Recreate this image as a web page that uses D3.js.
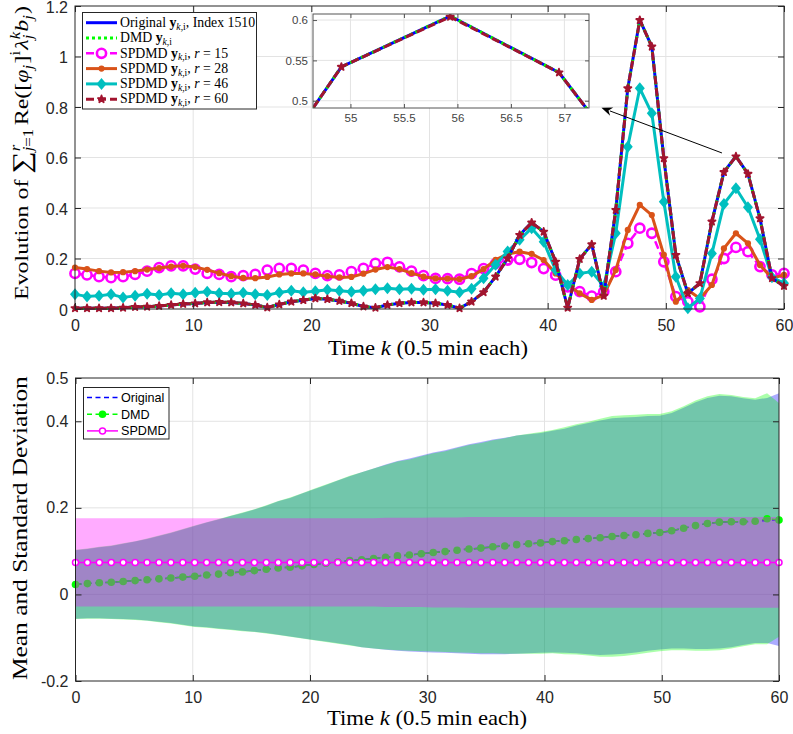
<!DOCTYPE html>
<html>
<head>
<meta charset="utf-8">
<script src="https://cdn.jsdelivr.net/npm/d3@7"></script>
<style>
  body { margin: 0; background: #fff; }
</style>
</head>
<body>
<svg id="fig" width="793" height="734"></svg>
<script>
// ---------- data ----------
// time grid: 60 samples spanning k = 0..60
const timeK = d3.range(60).map(i => i * 60 / 59);

const xTicks = [0, 10, 20, 30, 40, 50, 60];
const topYTicks = [0, 0.2, 0.4, 0.6, 0.8, 1, 1.2];
const bottomYTicks = [-0.2, 0, 0.2, 0.4, 0.5];
const insetXTicks = [55, 55.5, 56, 56.5, 57];
const insetYTicks = [0.5, 0.55, 0.6];

// reconstruction of one entry (index 1510)
const originalY = [0.003,0.003,0.003,0.003,0.005,0.008,0.009,0.012,0.016,0.020,
  0.022,0.026,0.027,0.026,0.022,0.016,0.006,0.018,0.029,0.035,
  0.042,0.039,0.032,0.023,0.010,0.005,0.016,0.023,0.026,0.026,
  0.023,0.016,0.003,0.029,0.066,0.128,0.200,0.293,0.342,0.306,
  0.187,0.005,0.198,0.256,0.052,0.392,0.874,1.145,1.039,0.597,
  0.214,0.062,0.102,0.346,0.542,0.605,0.535,0.359,0.122,0.091];
const dmdY = [0.003,0.003,0.003,0.003,0.005,0.008,0.009,0.012,0.016,0.020,
  0.022,0.026,0.027,0.026,0.022,0.016,0.006,0.018,0.029,0.035,
  0.042,0.039,0.032,0.023,0.010,0.005,0.016,0.023,0.026,0.026,
  0.023,0.016,0.003,0.029,0.066,0.128,0.200,0.293,0.342,0.306,
  0.187,0.005,0.198,0.256,0.052,0.392,0.874,1.145,1.039,0.597,
  0.214,0.062,0.102,0.346,0.542,0.605,0.535,0.359,0.122,0.091];
const spdmdR15 = [0.141,0.135,0.128,0.124,0.128,0.137,0.150,0.164,0.171,0.171,
  0.158,0.141,0.137,0.128,0.132,0.137,0.154,0.161,0.161,0.154,
  0.141,0.132,0.135,0.148,0.161,0.181,0.185,0.167,0.150,0.132,
  0.121,0.120,0.118,0.140,0.160,0.180,0.194,0.197,0.184,0.160,
  0.134,0.088,0.069,0.051,0.069,0.148,0.260,0.320,0.300,0.187,
  0.049,0.029,0.009,0.118,0.200,0.244,0.227,0.168,0.135,0.141];
const spdmdR28 = [0.164,0.158,0.150,0.145,0.146,0.150,0.156,0.162,0.168,0.171,
  0.166,0.155,0.142,0.130,0.123,0.122,0.127,0.137,0.141,0.141,
  0.137,0.130,0.125,0.127,0.140,0.156,0.166,0.158,0.142,0.128,
  0.121,0.120,0.118,0.130,0.158,0.195,0.218,0.227,0.218,0.194,
  0.141,0.095,0.062,0.036,0.055,0.154,0.313,0.412,0.372,0.214,
  0.029,0.075,0.042,0.095,0.240,0.300,0.260,0.174,0.122,0.135];
const spdmdR46 = [0.058,0.050,0.052,0.058,0.046,0.052,0.060,0.055,0.062,0.058,
  0.064,0.068,0.062,0.060,0.064,0.058,0.055,0.065,0.072,0.066,
  0.070,0.076,0.072,0.068,0.072,0.078,0.082,0.078,0.080,0.076,
  0.078,0.072,0.066,0.080,0.122,0.175,0.228,0.274,0.320,0.266,
  0.154,0.095,0.141,0.148,0.090,0.300,0.643,0.874,0.775,0.425,
  0.128,0.003,0.042,0.220,0.416,0.478,0.403,0.276,0.126,0.102];
const spdmdR60 = [0.003,0.003,0.003,0.003,0.005,0.008,0.009,0.012,0.016,0.020,
  0.022,0.026,0.027,0.026,0.022,0.016,0.006,0.018,0.029,0.035,
  0.042,0.039,0.032,0.023,0.010,0.005,0.016,0.023,0.026,0.026,
  0.023,0.016,0.003,0.029,0.066,0.128,0.200,0.293,0.342,0.306,
  0.187,0.005,0.198,0.256,0.052,0.392,0.874,1.144,1.039,0.597,
  0.214,0.062,0.102,0.346,0.542,0.604,0.535,0.359,0.122,0.091];

// mean and standard deviation over all entries
const originalMean = [0.023,0.025,0.027,0.028,0.030,0.032,0.034,0.036,0.038,0.040,
  0.042,0.045,0.047,0.050,0.052,0.055,0.058,0.061,0.063,0.066,
  0.069,0.072,0.075,0.078,0.080,0.083,0.086,0.089,0.091,0.094,
  0.097,0.099,0.102,0.105,0.107,0.110,0.112,0.115,0.117,0.119,
  0.122,0.124,0.127,0.129,0.131,0.134,0.136,0.138,0.141,0.143,
  0.147,0.153,0.159,0.164,0.167,0.168,0.168,0.169,0.171,0.173];
const originalStd = [0.079,0.080,0.082,0.084,0.087,0.090,0.094,0.099,0.104,0.110,
  0.116,0.121,0.126,0.131,0.136,0.141,0.147,0.154,0.160,0.167,
  0.174,0.181,0.188,0.195,0.202,0.208,0.214,0.219,0.223,0.227,
  0.231,0.234,0.238,0.242,0.245,0.248,0.250,0.252,0.253,0.254,
  0.256,0.259,0.263,0.267,0.271,0.273,0.273,0.272,0.271,0.270,
  0.272,0.278,0.285,0.290,0.292,0.290,0.285,0.281,0.283,0.292];
const dmdMean = [0.023,0.025,0.027,0.028,0.030,0.032,0.034,0.036,0.038,0.040,
  0.042,0.045,0.047,0.050,0.052,0.055,0.058,0.061,0.063,0.066,
  0.069,0.072,0.075,0.078,0.080,0.083,0.086,0.089,0.091,0.094,
  0.097,0.099,0.102,0.105,0.107,0.110,0.112,0.115,0.117,0.119,
  0.122,0.124,0.127,0.129,0.131,0.134,0.136,0.138,0.141,0.143,
  0.147,0.153,0.159,0.164,0.167,0.168,0.168,0.169,0.175,0.172];
const dmdStd = [0.080,0.081,0.083,0.085,0.088,0.091,0.095,0.100,0.105,0.111,
  0.117,0.122,0.127,0.132,0.137,0.142,0.148,0.155,0.161,0.168,
  0.175,0.182,0.189,0.196,0.202,0.208,0.213,0.218,0.221,0.225,
  0.229,0.232,0.236,0.240,0.243,0.246,0.249,0.252,0.254,0.256,
  0.258,0.262,0.266,0.270,0.275,0.278,0.278,0.277,0.276,0.274,
  0.276,0.282,0.289,0.294,0.296,0.293,0.288,0.284,0.290,0.270];
const spdmdMean = [0.074,0.074,0.074,0.074,0.074,0.074,0.074,0.074,0.074,0.074,
  0.074,0.074,0.074,0.074,0.074,0.074,0.074,0.074,0.074,0.074,
  0.074,0.074,0.074,0.074,0.074,0.074,0.074,0.074,0.074,0.074,
  0.074,0.074,0.074,0.074,0.074,0.074,0.074,0.074,0.074,0.074,
  0.074,0.074,0.074,0.074,0.074,0.074,0.074,0.074,0.074,0.074,
  0.074,0.074,0.074,0.074,0.074,0.074,0.074,0.074,0.074,0.074];
const spdmdStd = [0.102,0.102,0.102,0.102,0.102,0.102,0.102,0.102,0.102,0.102,
  0.102,0.102,0.102,0.102,0.102,0.102,0.102,0.102,0.102,0.102,
  0.102,0.102,0.102,0.102,0.102,0.102,0.103,0.103,0.103,0.103,
  0.104,0.104,0.104,0.105,0.105,0.105,0.105,0.105,0.105,0.105,
  0.105,0.105,0.105,0.105,0.105,0.105,0.105,0.105,0.105,0.105,
  0.105,0.105,0.105,0.105,0.105,0.105,0.105,0.105,0.105,0.105];

// ---------- styling ----------
const SERIF = "'Liberation Serif', 'DejaVu Serif', serif";
const SANS = "'Liberation Sans', Arial, sans-serif";
const AXIS_COLOR = '#262626';
const GRID_COLOR = '#e3e3e3';
const fmt = d => String(Math.round(d * 1000) / 1000);

const svg = d3.select('#fig');
svg.append('rect').attr('width', 793).attr('height', 734).attr('fill', '#fff');

// ---------- helpers ----------
// rich text: segments with roman / italic / bold parts, sub/superscripts
function rich(parent, segs, size, fill, subDrop) {
  const g = parent.append('g');
  let x = 0, lastStart = 0;
  for (const s of segs) {
    const small = s.pos === 'sub' || s.pos === 'sup';
    const fsz = small ? size * 0.7 : size * (s.big || 1);
    const dy = s.pos === 'sub' ? size * (subDrop || 0.28) : s.pos === 'sup' ? -size * 0.42 : (s.shift || 0) * size;
    const x0 = s.stack ? lastStart : x;
    const t = g.append('text').attr('x', x0).attr('y', dy)
      .attr('font-size', fsz).attr('font-family', SERIF).attr('fill', fill);
    const parts = s.parts || [[s.t, s.s || 'rm']];
    for (const [txt, st] of parts) {
      t.append('tspan').text(txt.replace(/ /g, '\u00a0'))
        .attr('font-style', st === 'it' ? 'italic' : 'normal')
        .attr('font-weight', st === 'bf' ? 'bold' : 'normal');
    }
    const w = t.node().getComputedTextLength() + (s.gap || 0) * size;
    if (s.stack) x = Math.max(x, x0 + w);
    else { lastStart = x0; x = x0 + w; }
  }
  return { g, width: x };
}
// place rich text; optional target width stretches it horizontally
function placeRich(parent, segs, size, cx, cy, rotate, anchor, target, subDrop) {
  const outer = parent.append('g');
  const r = rich(outer, segs, size, '#000', subDrop);
  const sx = target ? target / r.width : 1;
  const shift = anchor === 'start' ? 0 : -r.width * sx / 2;
  r.g.attr('transform', `translate(${shift},0) scale(${sx},1)`);
  outer.attr('transform', `translate(${cx},${cy}) rotate(${rotate || 0})`);
  return r;
}

function drawGrid(g, x, y, xt, yt) {
  const [xa, xb] = x.range(), [ya, yb] = y.range();
  const grid = g.append('g').attr('stroke', GRID_COLOR).attr('stroke-width', 1);
  xt.filter(v => v > x.domain()[0] && v < x.domain()[1]).forEach(v =>
    grid.append('line').attr('x1', x(v)).attr('x2', x(v)).attr('y1', ya).attr('y2', yb));
  yt.filter(v => v > y.domain()[0] && v < y.domain()[1]).forEach(v =>
    grid.append('line').attr('x1', xa).attr('x2', xb).attr('y1', y(v)).attr('y2', y(v)));
}

function drawFrame(g, x, y, xt, yt, o) {
  const [xa, xb] = x.range(), [ya, yb] = y.range();
  const color = o.color || AXIS_COLOR;
  const style = sel => {
    sel.select('.domain').remove();
    sel.attr('font-family', SANS).attr('font-size', o.font).attr('color', color);
    sel.selectAll('text').attr('fill', o.labelColor || color);
  };
  g.append('g').attr('transform', `translate(0,${ya})`)
    .call(d3.axisBottom(x).tickValues(xt).tickSize(-o.tick).tickPadding(o.padX).tickFormat(fmt)).call(style);
  g.append('g').attr('transform', `translate(0,${yb})`)
    .call(d3.axisTop(x).tickValues(xt).tickSize(-o.tick).tickFormat('')).call(style);
  g.append('g').attr('transform', `translate(${xa},0)`)
    .call(d3.axisLeft(y).tickValues(yt).tickSize(-o.tick).tickPadding(o.padY).tickFormat(fmt)).call(style)
    .selectAll('text').attr('dy', o.yLabelDy || '0.32em');
  g.append('g').attr('transform', `translate(${xb},0)`)
    .call(d3.axisRight(y).tickValues(yt).tickSize(-o.tick).tickFormat('')).call(style);
  g.append('rect').attr('x', xa).attr('y', yb).attr('width', xb - xa).attr('height', ya - yb)
    .attr('fill', 'none').attr('stroke', color).attr('stroke-width', 1);
}

function marker(g, type, color, cx, cy) {
  if (type === 'ring') {
    g.append('circle').attr('cx', cx).attr('cy', cy).attr('r', 4.6)
      .attr('fill', '#fff').attr('stroke', color).attr('stroke-width', 2.6);
  } else if (type === 'dot') {
    g.append('circle').attr('cx', cx).attr('cy', cy).attr('r', 3.1).attr('fill', color);
  } else if (type === 'star') {
    g.append('path').attr('transform', `translate(${cx},${cy})`)
      .attr('d', d3.symbol(d3.symbolStar, 16)()).attr('fill', color)
      .attr('stroke', color).attr('stroke-width', 1.8).attr('stroke-linejoin', 'round');
  } else if (type === 'diamond') {
    g.append('path').attr('transform', `translate(${cx},${cy})`)
      .attr('d', 'M0,-6L5,0L0,6L-5,0Z').attr('fill', color);
  }
}

// ---------- upper panel ----------
const xTop = d3.scaleLinear().domain([0, 60]).range([75, 784]);
const yTop = d3.scaleLinear().domain([0, 1.2]).range([309, 6]);
const upper = svg.append('g');
drawGrid(upper, xTop, yTop, xTicks, topYTicks);

const topSeries = [
  { name: 'r15', values: spdmdR15, color: '#ff00ff', width: 2.5, dash: '8,4', mark: 'ring' },
  { name: 'r28', values: spdmdR28, color: '#d95319', width: 3, dash: null, mark: 'dot' },
  { name: 'r46', values: spdmdR46, color: '#00bfbf', width: 3, dash: null, mark: 'diamond' },
  { name: 'orig', values: originalY, color: '#0000ff', width: 3, dash: null, mark: null },
  { name: 'dmd', values: dmdY, color: '#00ff00', width: 3, dash: '3,3', mark: null },
  { name: 'r60', values: spdmdR60, color: '#a2142f', width: 3, dash: '8,4', mark: 'star' }
];

function drawSeries(g, s, x, y) {
  const line = d3.line().x((d, i) => x(timeK[i])).y(d => y(d));
  g.append('path').datum(s.values).attr('d', line).attr('fill', 'none')
    .attr('stroke', s.color).attr('stroke-width', s.width)
    .attr('stroke-dasharray', s.dash).attr('stroke-linejoin', 'round');
  if (s.mark) {
    const mg = g.append('g');
    s.values.forEach((v, i) => marker(mg, s.mark, s.color, x(timeK[i]), y(v)));
  }
}
topSeries.forEach(s => drawSeries(upper, s, xTop, yTop));

drawFrame(upper, xTop, yTop, xTicks, topYTicks, { font: 16, tick: 6, padX: 10.5, padY: 7, yLabelDy: '0.4em' });

// arrow pointing from the second peak to the zoomed view
const arrowTail = [54.75, 0.618], arrowHead = [44.55, 0.797];
{
  const x1 = xTop(arrowTail[0]), y1 = yTop(arrowTail[1]);
  const x2 = xTop(arrowHead[0]), y2 = yTop(arrowHead[1]);
  const ang = Math.atan2(y2 - y1, x2 - x1);
  const L = 11, Wd = 4.5;
  const bx = x2 - L * Math.cos(ang), by = y2 - L * Math.sin(ang);
  const nx = -Math.sin(ang), ny = Math.cos(ang);
  upper.append('line').attr('x1', x1).attr('y1', y1).attr('x2', bx + 2 * Math.cos(ang)).attr('y2', by + 2 * Math.sin(ang))
    .attr('stroke', '#000').attr('stroke-width', 1);
  const nb = 3.5;
  upper.append('path').attr('d',
    `M${x2},${y2}L${bx + nx * Wd},${by + ny * Wd}L${x2 - (L - nb) * Math.cos(ang)},${y2 - (L - nb) * Math.sin(ang)}L${bx - nx * Wd},${by - ny * Wd}Z`)
    .attr('fill', '#000');
}

// zoomed view around the second peak
const xIn = d3.scaleLinear().domain([54.65, 57.23]).range([313, 589]);
const yIn = d3.scaleLinear().domain([0.491, 0.6075]).range([108, 14]);
const inset = svg.append('g');
inset.append('rect').attr('x', 313).attr('y', 14).attr('width', 276).attr('height', 94).attr('fill', '#fff');
drawGrid(inset, xIn, yIn, insetXTicks, insetYTicks);
svg.append('clipPath').attr('id', 'insetClip').append('rect')
  .attr('x', 313).attr('y', 14).attr('width', 276).attr('height', 94);
const insetData = inset.append('g').attr('clip-path', 'url(#insetClip)');
topSeries.filter(s => ['orig', 'dmd', 'r60'].includes(s.name))
  .forEach(s => drawSeries(insetData, s, xIn, yIn));
drawFrame(inset, xIn, yIn, insetXTicks, insetYTicks,
  { font: 11.5, tick: 4, padX: 6, padY: 5, color: '#555', labelColor: '#444' });

// legend (upper)
{
  const lg = svg.append('g');
  lg.append('rect').attr('x', 82.5).attr('y', 12.5).attr('width', 174).attr('height', 96.5)
    .attr('fill', '#fff').attr('stroke', AXIS_COLOR).attr('stroke-width', 1);
  const yki = [{ t: 'y', s: 'bf' }, { parts: [['k', 'it'], [',i', 'rm']], pos: 'sub' }];
  const rLab = v => [{ t: 'SPDMD ', s: 'rm' }, ...yki, { t: ', ', s: 'rm' }, { t: 'r', s: 'it' }, { t: ' = ' + v, s: 'rm' }];
  const labels = [
    [{ t: 'Original ', s: 'rm' }, ...yki, { t: ', Index 1510', s: 'rm' }],
    [{ t: 'DMD ', s: 'rm' }, ...yki],
    rLab(15), rLab(28), rLab(46), rLab(60)
  ];
  const order = ['orig', 'dmd', 'r15', 'r28', 'r46', 'r60'];
  order.forEach((nm, i) => {
    const s = topSeries.find(d => d.name === nm);
    const cy = 22.7 + i * 15.3;
    lg.append('line').attr('x1', 86).attr('x2', 117).attr('y1', cy).attr('y2', cy)
      .attr('stroke', s.color).attr('stroke-width', s.width).attr('stroke-dasharray', s.dash);
    if (s.mark) marker(lg, s.mark, s.color, 101.5, cy);
    placeRich(lg, labels[i], 13.8, 120, cy + 4.2, 0, 'start', null, 0.2);
  });
}

// axis labels (upper)
const timeLabel = [{ t: 'Time ', s: 'rm' }, { t: 'k', s: 'it' }, { t: ' (0.5 min each)', s: 'rm' }];
placeRich(svg, timeLabel, 20.5, 428, 355, 0, 'middle', 200);
placeRich(svg, [
  { t: 'Evolution of ', s: 'rm' },
  { t: '\u2211', s: 'rm', big: 1.3, shift: 0.08 },
  { t: 'r', s: 'it', pos: 'sup' },
  { parts: [['j', 'it'], ['=1', 'rm']], pos: 'sub', stack: true, gap: 0.15 },
  { t: 'Re([', s: 'rm' },
  { t: '\u03c6', s: 'it' },
  { t: 'j', s: 'it', pos: 'sub', gap: 0.05 },
  { t: ']', s: 'rm' },
  { t: 'i', s: 'rm', pos: 'sup', gap: 0.05 },
  { t: '\u03bb', s: 'it' },
  { t: 'k', s: 'it', pos: 'sup' },
  { t: 'j', s: 'it', pos: 'sub', stack: true, gap: 0.05 },
  { t: 'b', s: 'it' },
  { t: 'j', s: 'it', pos: 'sub', gap: 0.05 },
  { t: ')', s: 'rm' }
], 19.5, 28, 153, -90, 'middle', 294);

// ---------- lower panel ----------
const xBot = d3.scaleLinear().domain([0, 60]).range([75.5, 779]);
const yBot = d3.scaleLinear().domain([-0.2, 0.5]).range([681, 378]);
const lower = svg.append('g');
drawGrid(lower, xBot, yBot, xTicks, bottomYTicks);

const band = (mean, std) => d3.area()
  .x((d, i) => xBot(timeK[i]))
  .y0((d, i) => yBot(mean[i] - std[i]))
  .y1((d, i) => yBot(mean[i] + std[i]))(mean);
const lineOf = vals => d3.line().x((d, i) => xBot(timeK[i])).y(d => yBot(d))(vals);

lower.append('path').attr('d', band(originalMean, originalStd)).attr('fill', '#0000ff').attr('fill-opacity', 0.33);
lower.append('path').attr('d', band(dmdMean, dmdStd)).attr('fill', '#00ff00').attr('fill-opacity', 0.33);
lower.append('path').attr('d', lineOf(originalMean)).attr('fill', 'none')
  .attr('stroke', '#0000ff').attr('stroke-width', 1.5).attr('stroke-dasharray', '6,4');
lower.append('path').attr('d', lineOf(dmdMean)).attr('fill', 'none')
  .attr('stroke', '#00ff00').attr('stroke-width', 1.5).attr('stroke-dasharray', '6,4');
lower.append('g').selectAll('circle').data(dmdMean).join('circle')
  .attr('cx', (d, i) => xBot(timeK[i])).attr('cy', d => yBot(d)).attr('r', 3.8).attr('fill', '#00ff00');
lower.append('path').attr('d', band(spdmdMean, spdmdStd)).attr('fill', '#ff00ff').attr('fill-opacity', 0.33);
lower.append('path').attr('d', lineOf(spdmdMean)).attr('fill', 'none')
  .attr('stroke', '#ff00ff').attr('stroke-width', 1.5);
lower.append('g').selectAll('circle').data(spdmdMean).join('circle')
  .attr('cx', (d, i) => xBot(timeK[i])).attr('cy', d => yBot(d)).attr('r', 3)
  .attr('fill', '#fff').attr('stroke', '#ff00ff').attr('stroke-width', 1.5);

drawFrame(lower, xBot, yBot, xTicks, bottomYTicks, { font: 16, tick: 6, padX: 10.5, padY: 7 });

// legend (lower)
{
  const lg = svg.append('g');
  lg.append('rect').attr('x', 83.5).attr('y', 387.5).attr('width', 85.5).attr('height', 51.5)
    .attr('fill', '#fff').attr('stroke', AXIS_COLOR).attr('stroke-width', 1);
  const rows = [
    { label: 'Original', color: '#0000ff', dash: '5,3.5', mark: null },
    { label: 'DMD', color: '#00ff00', dash: '5,3.5', mark: 'fill' },
    { label: 'SPDMD', color: '#ff00ff', dash: null, mark: 'ring' }
  ];
  rows.forEach((r, i) => {
    const cy = 397.5 + i * 16.7;
    lg.append('line').attr('x1', 87).attr('x2', 118).attr('y1', cy).attr('y2', cy)
      .attr('stroke', r.color).attr('stroke-width', 1.5).attr('stroke-dasharray', r.dash);
    if (r.mark === 'fill') lg.append('circle').attr('cx', 102.5).attr('cy', cy).attr('r', 3.8).attr('fill', r.color);
    if (r.mark === 'ring') lg.append('circle').attr('cx', 102.5).attr('cy', cy).attr('r', 3)
      .attr('fill', '#fff').attr('stroke', r.color).attr('stroke-width', 1.5);
    lg.append('text').attr('x', 121).attr('y', cy + 4.5).attr('font-family', SANS)
      .attr('font-size', 12.6).attr('fill', '#000').text(r.label);
  });
}

// axis labels (lower)
placeRich(svg, timeLabel, 20.5, 427, 725, 0, 'middle', 200);
placeRich(svg, [{ t: 'Mean and Standard Deviation', s: 'rm' }], 21.5, 27, 528, -90, 'middle', 304);
</script>
</body>
</html>
